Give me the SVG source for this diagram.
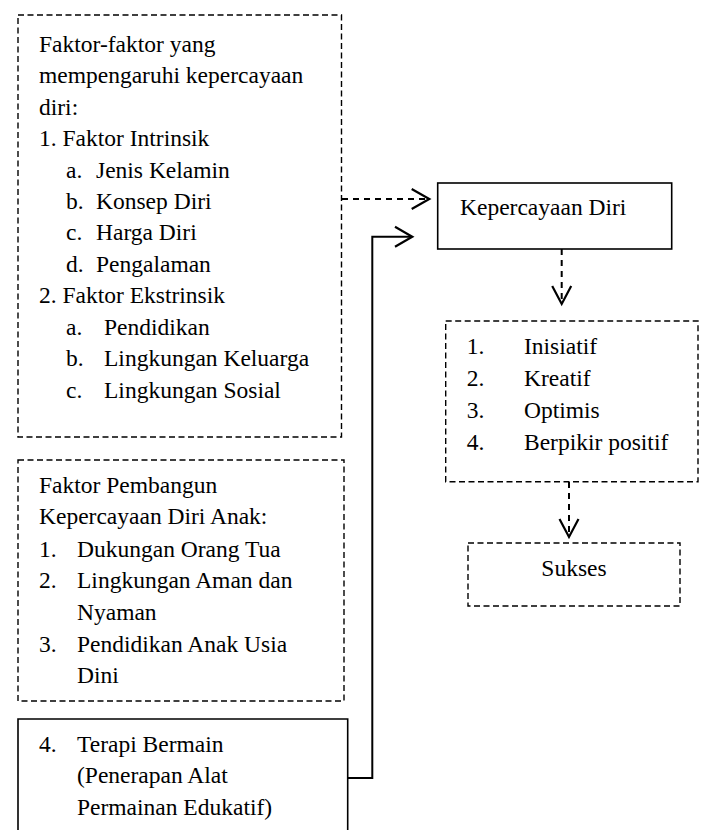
<svg xmlns="http://www.w3.org/2000/svg" width="705" height="830" viewBox="0 0 705 830">
<style>
text{font-family:'Liberation Serif','DejaVu Serif',serif;font-size:23.5px;fill:#000}
.dbox{fill:none;stroke:#000;stroke-width:1.4;stroke-dasharray:6 3.5}
.sbox{fill:none;stroke:#000;stroke-width:1.6}
.dline{fill:none;stroke:#000;stroke-width:2;stroke-dasharray:6 5}
.sline{fill:none;stroke:#000;stroke-width:2}
.head{fill:none;stroke:#000;stroke-width:2.2}
</style>
<rect width="705" height="830" fill="#fff"/>
<g font-family="Liberation Serif, DejaVu Serif, serif">
<g id="faktor-mempengaruhi">
<rect class="dbox" x="18" y="15" width="323.5" height="422"/>
<text x="39" y="51.7">Faktor-faktor yang</text>
<text x="39" y="83.2">mempengaruhi kepercayaan</text>
<text x="39" y="114.6">diri:</text>
<text x="39" y="146.1">1. Faktor Intrinsik</text>
<text x="66" y="177.5">a.</text><text x="96" y="177.5">Jenis Kelamin</text>
<text x="66" y="209">b.</text><text x="96" y="209">Konsep Diri</text>
<text x="66" y="240.4">c.</text><text x="96" y="240.4">Harga Diri</text>
<text x="66" y="271.9">d.</text><text x="96" y="271.9">Pengalaman</text>
<text x="39" y="303.3">2. Faktor Ekstrinsik</text>
<text x="66" y="334.8">a.</text><text x="104" y="334.8">Pendidikan</text>
<text x="66" y="366.2">b.</text><text x="104" y="366.2">Lingkungan Keluarga</text>
<text x="66" y="397.7">c.</text><text x="104" y="397.7">Lingkungan Sosial</text>
</g>
<g id="faktor-pembangun">
<rect class="dbox" x="18" y="460" width="326" height="241"/>
<text x="39" y="492.7">Faktor Pembangun</text>
<text x="39" y="524">Kepercayaan Diri Anak:</text>
<text x="39" y="556.7">1.</text><text x="77" y="556.7">Dukungan Orang Tua</text>
<text x="39" y="588">2.</text><text x="77" y="588">Lingkungan Aman dan</text>
<text x="77" y="619.5">Nyaman</text>
<text x="39" y="651.7">3.</text><text x="77" y="651.7">Pendidikan Anak Usia</text>
<text x="77" y="683">Dini</text>
</g>
<g id="terapi-bermain">
<path class="sbox" d="M18,840 V719 H347.7 V840"/>
<text x="39" y="751.7">4.</text><text x="77" y="751.7">Terapi Bermain</text>
<text x="77" y="783">(Penerapan Alat</text>
<text x="77" y="815">Permainan Edukatif)</text>
</g>
<g id="kepercayaan-diri">
<rect class="sbox" x="437.7" y="183" width="234" height="66"/>
<text x="460" y="215">Kepercayaan Diri</text>
</g>
<g id="ciri">
<rect class="dbox" x="445.7" y="321" width="252.3" height="160.7"/>
<text x="466.7" y="354">1.</text><text x="524" y="354">Inisiatif</text>
<text x="466.7" y="386">2.</text><text x="524" y="386">Kreatif</text>
<text x="466.7" y="418">3.</text><text x="524" y="418">Optimis</text>
<text x="466.7" y="449.5">4.</text><text x="524" y="449.5">Berpikir positif</text>
</g>
<g id="sukses">
<rect class="dbox" x="468" y="543" width="212" height="63"/>
<text x="574" y="576" text-anchor="middle">Sukses</text>
</g>
</g>
<g id="connectors">
<path class="dline" d="M342,199 H428"/>
<path class="head" d="M411.7,189 L429.3,199 L411.7,209"/>
<path class="sline" d="M347.7,778 H372.3 V236.7 H411"/>
<path class="head" d="M395,226.7 L412.3,236.7 L395,246.7"/>
<path class="dline" d="M561.7,249 V303"/>
<path class="head" d="M552.2,286 L561.7,304 L571.2,286"/>
<path class="dline" d="M569,482 V536"/>
<path class="head" d="M559.5,519 L569,537 L578.5,519"/>
</g>
</svg>
